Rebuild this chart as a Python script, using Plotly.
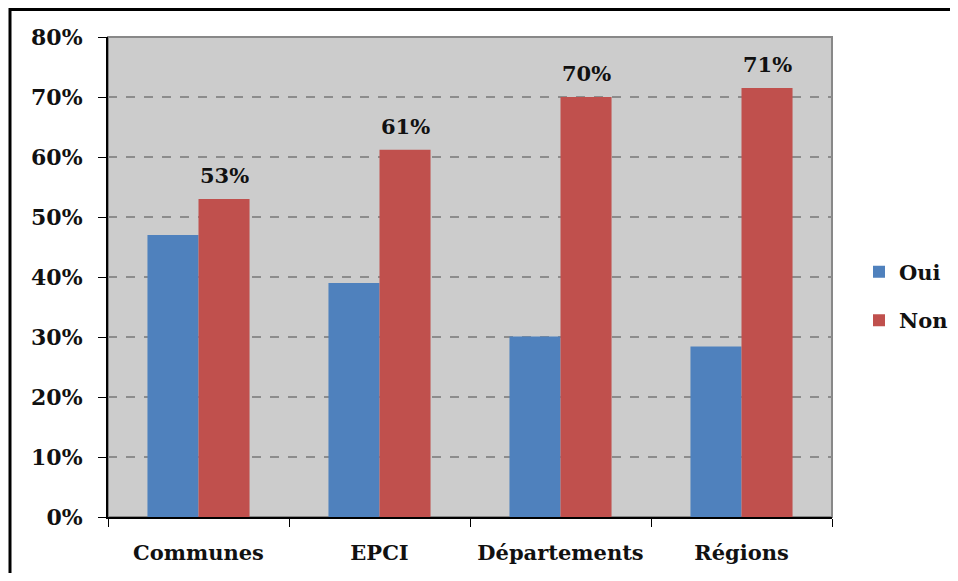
import plotly.graph_objects as go

# Data
categories = ["Communes", "EPCI", "Départements", "Régions"]
oui_values = [0.47, 0.39, 0.301, 0.284]
non_values = [0.53, 0.612, 0.70, 0.715]
non_labels = ["53%", "61%", "70%", "71%"]
y_ticks = [0, 0.1, 0.2, 0.3, 0.4, 0.5, 0.6, 0.7, 0.8]

FONT = "DejaVu Serif"
BLUE = "#4F81BD"
RED = "#C0504D"

# the page body adds an 8px margin, so keep the figure inside the window
W, H = 942, 565
L, R, T, B = 100, 118, 29, 56
PW, PH = W - L - R, H - T - B

fig = go.Figure()

fig.add_trace(
    go.Bar(
        x=categories,
        y=oui_values,
        name="<b>Oui</b>",
        marker=dict(color=BLUE, line=dict(width=0)),
        legendgroup="oui",
    )
)

fig.add_trace(
    go.Bar(
        x=categories,
        y=non_values,
        name="<b>Non</b>",
        marker=dict(color=RED, line=dict(width=0)),
        legendgroup="non",
    )
)

# value labels above the "Non" bars
for cat, val, lab in zip(categories, non_values, non_labels):
    fig.add_annotation(
        x=cat,
        y=val,
        text=f"<b>{lab}</b>",
        showarrow=False,
        xshift=25.5,
        yanchor="bottom",
        yshift=9,
        font=dict(family=FONT, size=21, color="#111111"),
    )

# gray border on top/right of the plot area
fig.add_shape(
    type="rect",
    xref="paper", yref="paper",
    x0=0, x1=1, y0=0, y1=1,
    line=dict(color="#888888", width=2),
    layer="below",
)

# outer black frame (only top and left edges are visible in the picture)
fx = (2 - L) / PW
fy_top = 1 + (T - 1.5) / PH
fy_bot = -(B + 20) / PH
fx_right = 1 + (R + 20) / PW
fig.add_shape(
    type="path",
    xref="paper", yref="paper",
    path=f"M {fx},{fy_bot} L {fx},{fy_top} L {fx_right},{fy_top}",
    line=dict(color="black", width=3),
)

fig.update_layout(
    width=W,
    height=H,
    barmode="group",
    bargap=0.436,
    bargroupgap=0,
    plot_bgcolor="#CCCCCC",
    paper_bgcolor="white",
    margin=dict(l=L, r=R, t=T, b=B, autoexpand=False),
    font=dict(family=FONT, size=22, color="#111111"),
    legend=dict(
        x=(851 - L) / PW,
        xanchor="left",
        y=0.46,
        yanchor="middle",
        traceorder="grouped",
        tracegroupgap=18,
        itemwidth=30,
        font=dict(family=FONT, size=21, color="#111111"),
        bgcolor="rgba(0,0,0,0)",
    ),
    xaxis=dict(
        automargin=False,
        tickangle=0,
        showline=True,
        linecolor="black",
        linewidth=2,
        ticks="outside",
        tickson="boundaries",
        ticklen=8,
        tickcolor="black",
        tickwidth=1,
        showgrid=False,
        ticklabelstandoff=16,
        tickfont=dict(family=FONT, size=21, color="#111111", weight="bold"),
    ),
    yaxis=dict(
        automargin=False,
        range=[0, 0.8],
        tickvals=y_ticks,
        tickformat=".0%",
        showline=True,
        linecolor="black",
        linewidth=2,
        ticks="outside",
        ticklen=8,
        tickcolor="black",
        tickwidth=1,
        showgrid=True,
        gridcolor="#8C8C8C",
        gridwidth=2,
        griddash="dash",
        zeroline=False,
        ticklabelstandoff=11,
        tickfont=dict(family=FONT, size=22, color="#111111", weight="bold"),
    ),
)

fig.write_html("out.html")
